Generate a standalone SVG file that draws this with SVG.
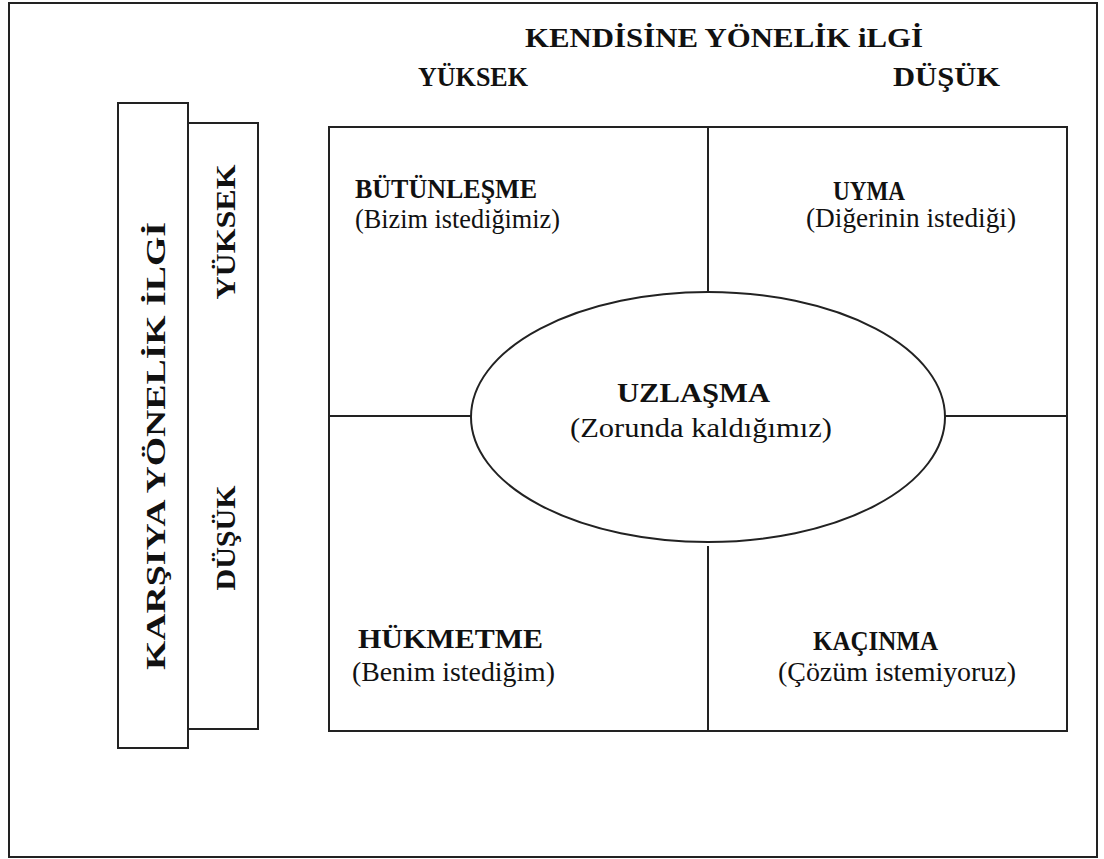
<svg xmlns="http://www.w3.org/2000/svg" width="1104" height="859" viewBox="0 0 1104 859">
<style>
.ln{fill:none;stroke:#222;stroke-width:2}
.t{font-family:"Liberation Serif","Times New Roman",serif;font-size:27px;fill:#111}
.b{font-weight:bold;font-size:28px}
</style>
<rect x="0" y="0" width="1104" height="859" fill="#fff"/>
<rect id="frame" class="ln" x="9" y="3" width="1088" height="854"/>
<g id="header">
<text class="t b" x="525" y="47" textLength="398" lengthAdjust="spacingAndGlyphs">KENDİSİNE YÖNELİK  iLGİ</text>
<text class="t b" x="418" y="86" textLength="110" lengthAdjust="spacingAndGlyphs">YÜKSEK</text>
<text class="t b" x="893" y="86" textLength="107" lengthAdjust="spacingAndGlyphs">DÜŞÜK</text>
</g>
<g id="axis-outer">
<rect class="ln" x="118" y="103" width="70" height="645"/>
<text class="t b" transform="translate(165,446) rotate(-90)" text-anchor="middle" textLength="448" lengthAdjust="spacingAndGlyphs">KARŞIYA YÖNELİK İLGİ</text>
</g>
<g id="axis-inner">
<path class="ln" d="M189 123 H258 V729 H189"/>
<text class="t b" transform="translate(235,232) rotate(-90)" text-anchor="middle" textLength="135" lengthAdjust="spacingAndGlyphs">YÜKSEK</text>
<text class="t b" transform="translate(235,538) rotate(-90)" text-anchor="middle" textLength="105" lengthAdjust="spacingAndGlyphs">DÜŞÜK</text>
</g>
<g id="connectors">
<rect class="ln" x="329" y="127" width="738" height="604"/>
<line class="ln" x1="708" y1="127" x2="708" y2="292"/>
<line class="ln" x1="708" y1="546" x2="708" y2="731"/>
<line class="ln" x1="329" y1="416" x2="471" y2="416"/>
<line class="ln" x1="945" y1="416" x2="1067" y2="416"/>
</g>
<g id="butunlesme">
<text class="t b" x="355" y="198" textLength="182" lengthAdjust="spacingAndGlyphs">BÜTÜNLEŞME</text>
<text class="t" x="355" y="228" textLength="205" lengthAdjust="spacingAndGlyphs">(Bizim istediğimiz)</text>
</g>
<g id="uyma">
<text class="t b" x="833" y="200" textLength="72" lengthAdjust="spacingAndGlyphs">UYMA</text>
<text class="t" x="806" y="227" textLength="210" lengthAdjust="spacingAndGlyphs">(Diğerinin istediği)</text>
</g>
<g id="uzlasma">
<ellipse class="ln" cx="708" cy="417" rx="237" ry="125"/>
<text class="t b" x="617" y="402" textLength="153" lengthAdjust="spacingAndGlyphs">UZLAŞMA</text>
<text class="t" x="570" y="437" textLength="262" lengthAdjust="spacingAndGlyphs">(Zorunda kaldığımız)</text>
</g>
<g id="hukmetme">
<text class="t b" x="358" y="648" textLength="185" lengthAdjust="spacingAndGlyphs">HÜKMETME</text>
<text class="t" x="352" y="681" textLength="203" lengthAdjust="spacingAndGlyphs">(Benim istediğim)</text>
</g>
<g id="kacinma">
<text class="t b" x="813" y="650" textLength="125" lengthAdjust="spacingAndGlyphs">KAÇINMA</text>
<text class="t" x="778" y="681" textLength="238" lengthAdjust="spacingAndGlyphs">(Çözüm istemiyoruz)</text>
</g>
</svg>
